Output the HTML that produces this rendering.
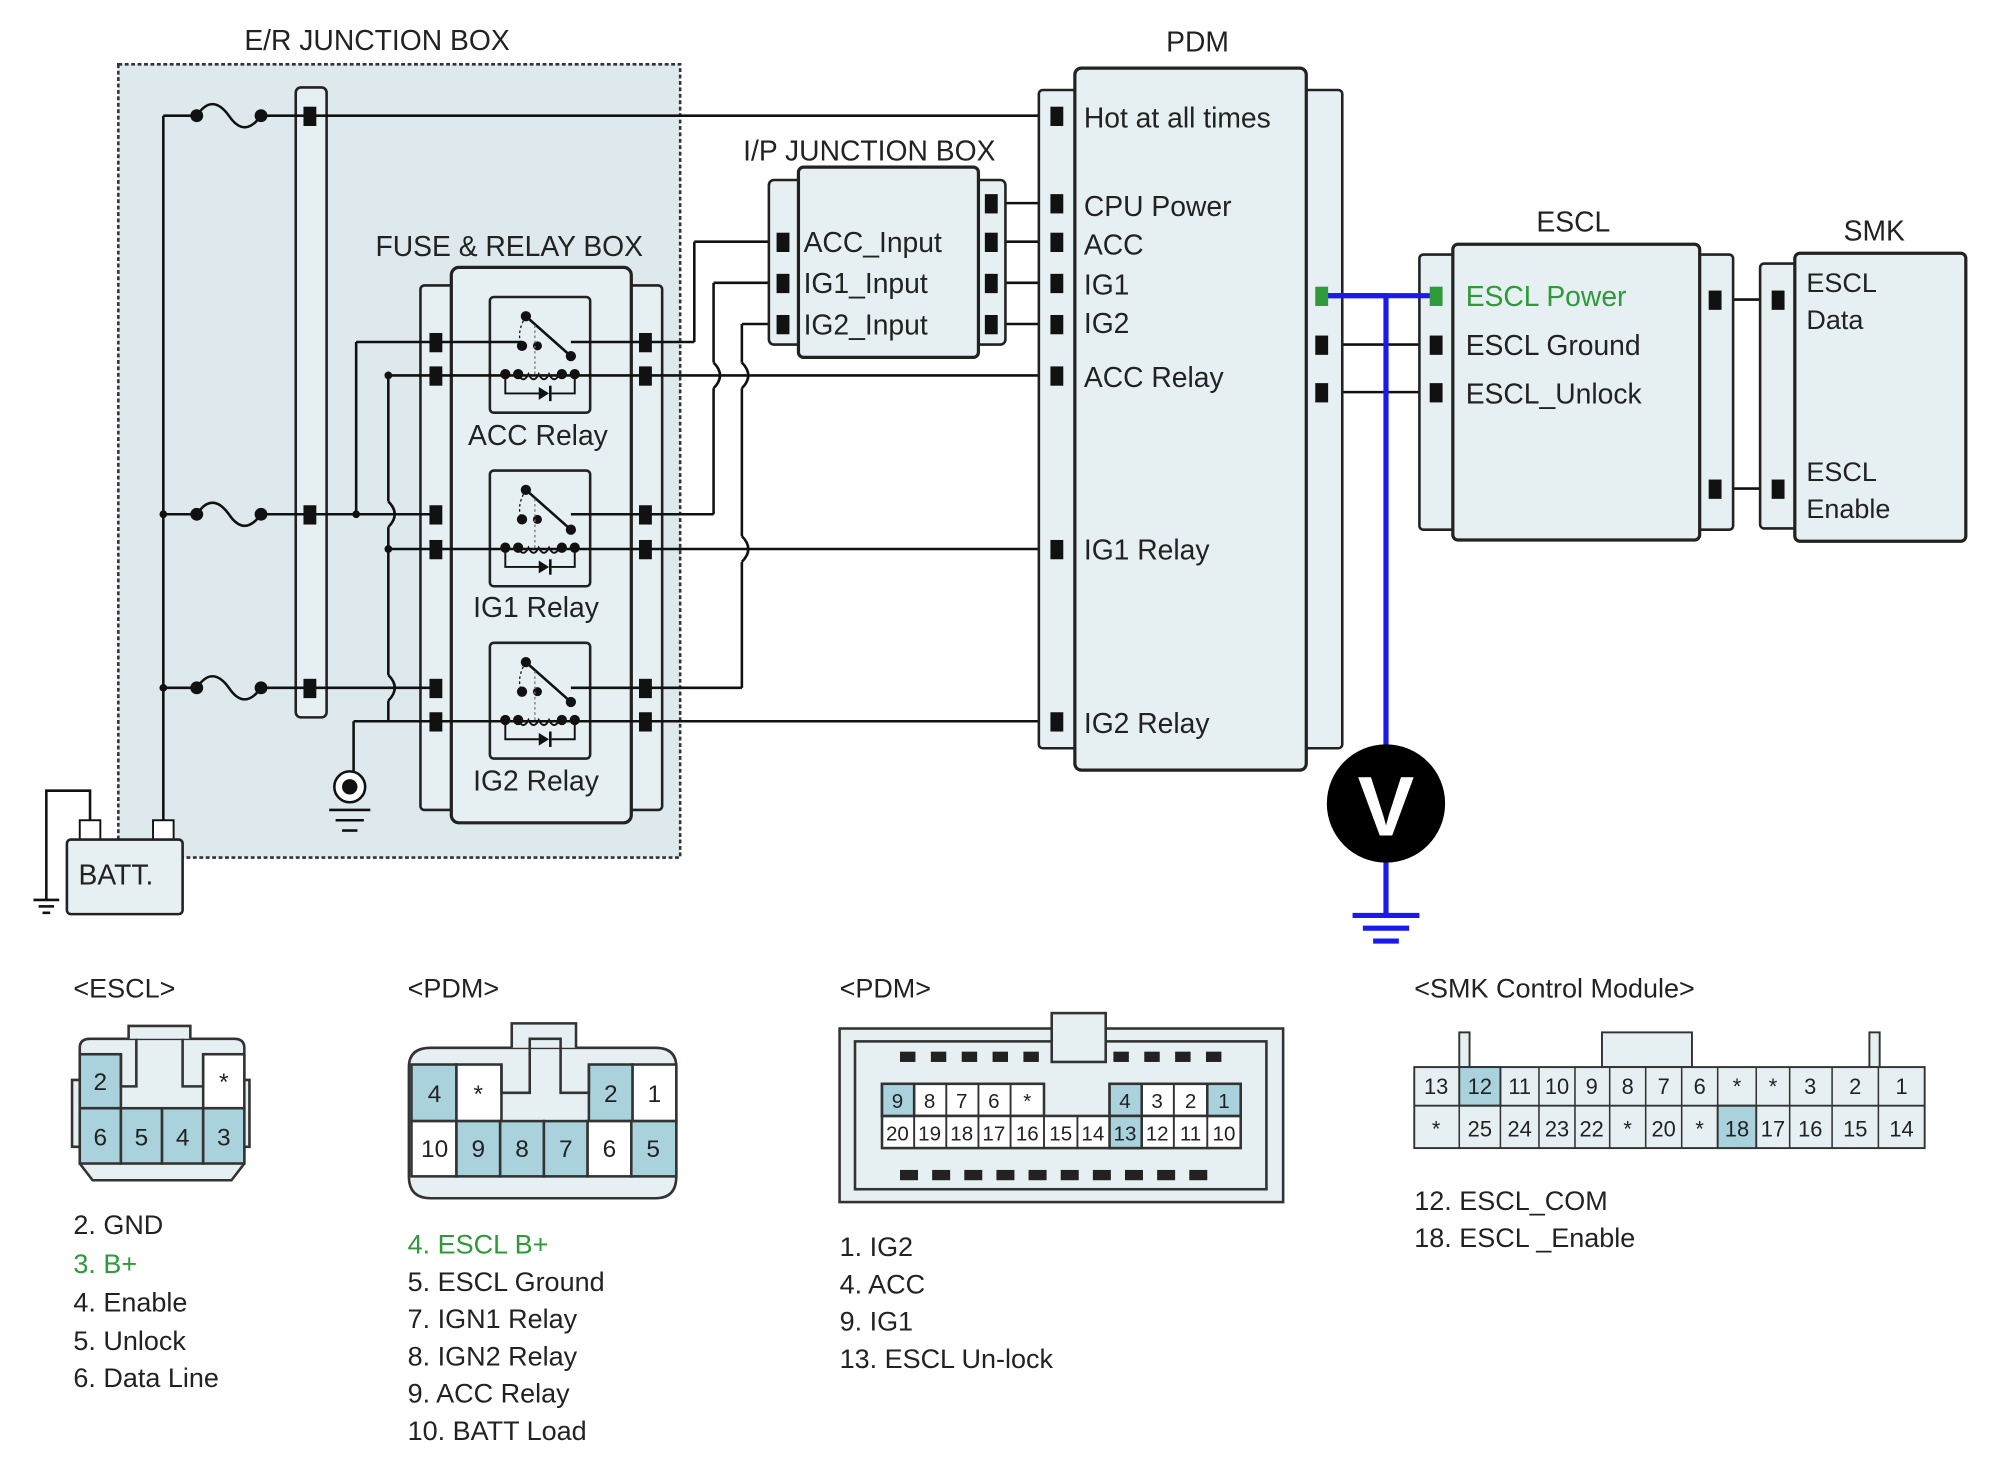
<!DOCTYPE html>
<html><head><style>
html,body{margin:0;padding:0;background:#fff;}
svg{display:block;}
text{font-family:"Liberation Sans",sans-serif;fill:#222;}
</style></head><body>
<svg width="2016" height="1465" viewBox="0 0 1568 1139.5" xmlns="http://www.w3.org/2000/svg">
<defs>
<g id="relay">
<rect x="0" y="0" width="78" height="90" rx="3" fill="none" stroke="#222" stroke-width="2"/>
<circle cx="28" cy="15" r="4" fill="#111"/><line x1="28" y1="15" x2="63" y2="46" stroke="#111" stroke-width="2"/>
<circle cx="37" cy="38" r="3.5" fill="#111"/><circle cx="63" cy="46" r="4" fill="#111"/>
<path d="M28 15 Q20 28 25 38" stroke="#111" stroke-dasharray="2,2" fill="none"/>
<circle cx="25" cy="38" r="4" fill="#111"/>
<line x1="35" y1="22" x2="35" y2="60" stroke="#777" stroke-dasharray="2,2"/>
<circle cx="12" cy="60" r="4" fill="#111"/><circle cx="22" cy="60" r="4" fill="#111"/><circle cx="56" cy="60" r="4" fill="#111"/><circle cx="66" cy="60" r="4" fill="#111"/>
<path d="M22 60 q4 8 8 0 q4 8 8 0 q4 8 8 0 q4 8 8 0" fill="none" stroke="#111" stroke-width="1.5"/>
<path d="M12 60 V75 H40 M48 75 H66 V60" fill="none" stroke="#111" stroke-width="1.5"/>
<path d="M38 70 L46 75 L38 80Z" fill="#111"/><line x1="47" y1="69" x2="47" y2="81" stroke="#111" stroke-width="2"/>
</g>
</defs>

<!-- E/R junction box -->
<rect x="92" y="50" width="437" height="617" fill="#dde9ec" stroke="#333" stroke-width="2" stroke-dasharray="3,2"/>
<text x="190" y="39" font-size="22">E/R JUNCTION BOX</text>
<rect x="230" y="68" width="24" height="490" rx="4" fill="#e6eff1" stroke="#222" stroke-width="2"/>

<!-- Fuse & relay box -->
<text x="292" y="199" font-size="22">FUSE &amp; RELAY BOX</text>
<rect x="327" y="222" width="188" height="408" rx="3" fill="#e6eff1" stroke="#222" stroke-width="2"/>
<rect x="351" y="208" width="140" height="432" rx="6" fill="#e6eff1" stroke="#222" stroke-width="2.5"/>
<use href="#relay" x="381" y="231"/>
<use href="#relay" x="381" y="366"/>
<use href="#relay" x="381" y="500"/>
<text x="364" y="346" font-size="22">ACC Relay</text>
<text x="368" y="480" font-size="22">IG1 Relay</text>
<text x="368" y="615" font-size="22">IG2 Relay</text>

<g stroke="#111" stroke-width="2" fill="none">
<!-- left bus -->
<line x1="127" y1="90" x2="127" y2="645"/>
<line x1="127" y1="90" x2="153" y2="90"/><path d="M153 90 q12 -18 25 0 q12 18 25 0"/><line x1="203" y1="90" x2="820" y2="90"/>
<line x1="127" y1="400" x2="153" y2="400"/><path d="M153 400 q12 -18 25 0 q12 18 25 0"/><line x1="203" y1="400" x2="339" y2="400"/>
<line x1="127" y1="535" x2="153" y2="535"/><path d="M153 535 q12 -18 25 0 q12 18 25 0"/><line x1="203" y1="535" x2="339" y2="535"/>
<!-- relay internal lines -->
<line x1="277" y1="266" x2="406" y2="266"/><line x1="277" y1="266" x2="277" y2="400"/>
<line x1="444" y1="266" x2="540" y2="266"/><line x1="540" y1="266" x2="540" y2="188"/><line x1="540" y1="188" x2="608" y2="188"/>
<line x1="302" y1="292" x2="820" y2="292" /><line x1="302" y1="292" x2="302" y2="390"/><path d="M302 390 q10 10 0 20"/><line x1="302" y1="410" x2="302" y2="525"/><path d="M302 525 q10 10 0 20"/><line x1="302" y1="545" x2="302" y2="561"/>
<line x1="302" y1="427" x2="820" y2="427"/>
<line x1="275" y1="561" x2="820" y2="561"/><line x1="275" y1="561" x2="275" y2="600"/>
<line x1="444" y1="400" x2="555" y2="400"/><line x1="555" y1="400" x2="555" y2="302"/><path d="M555 302 q10 -10 0 -20"/><line x1="555" y1="282" x2="555" y2="220"/><line x1="555" y1="220" x2="608" y2="220"/>
<line x1="444" y1="535" x2="577" y2="535"/><line x1="577" y1="535" x2="577" y2="437"/><path d="M577 437 q10 -10 0 -20"/><line x1="577" y1="417" x2="577" y2="302"/><path d="M577 302 q10 -10 0 -20"/><line x1="577" y1="282" x2="577" y2="252"/><line x1="577" y1="252" x2="608" y2="252"/>
<!-- I/P to PDM -->
<line x1="771" y1="158" x2="822" y2="158"/><line x1="771" y1="188" x2="822" y2="188"/><line x1="771" y1="220" x2="822" y2="220"/><line x1="771" y1="252" x2="822" y2="252"/>
<!-- PDM to ESCL -->
<line x1="1028" y1="268" x2="1117" y2="268"/><line x1="1028" y1="305" x2="1117" y2="305"/>
<line x1="1334" y1="233" x2="1383" y2="233"/><line x1="1334" y1="380" x2="1383" y2="380"/>
<!-- battery wires -->
<path d="M70 645 V615 H36 V700"/>
<line x1="26" y1="700" x2="46" y2="700"/><line x1="30" y1="705" x2="42" y2="705"/><line x1="33" y1="710" x2="39" y2="710"/>
</g>
<!-- white overlay over pdm relay lines hop area (lines run behind junction box) -->
<g fill="#111">
<circle cx="153" cy="90" r="5"/><circle cx="203" cy="90" r="5"/>
<circle cx="153" cy="400" r="5"/><circle cx="203" cy="400" r="5"/><circle cx="127" cy="400" r="3"/>
<circle cx="153" cy="535" r="5"/><circle cx="203" cy="535" r="5"/><circle cx="127" cy="535" r="3"/>
<circle cx="277" cy="400" r="3"/><circle cx="302" cy="427" r="3"/><circle cx="302" cy="292" r="3"/>
</g>
<!-- ground symbol -->
<circle cx="272" cy="612" r="12" fill="#fff" stroke="#111" stroke-width="2"/><circle cx="272" cy="612" r="6" fill="#111"/>
<g stroke="#111" stroke-width="2"><line x1="256" y1="630" x2="288" y2="630"/><line x1="261" y1="638" x2="283" y2="638"/><line x1="266" y1="646" x2="278" y2="646"/></g>
<!-- battery -->
<rect x="62" y="638" width="16" height="15" fill="#fff" stroke="#111" stroke-width="1.5"/>
<rect x="119" y="638" width="16" height="15" fill="#fff" stroke="#111" stroke-width="1.5"/>
<rect x="52" y="653" width="90" height="58" rx="3" fill="#e6eff1" stroke="#222" stroke-width="2"/>
<text x="61" y="688" font-size="22">BATT.</text>

<!-- I/P junction box -->
<text x="578" y="125" font-size="22">I/P JUNCTION BOX</text>
<rect x="598" y="140" width="184" height="128" rx="4" fill="#e6eff1" stroke="#222" stroke-width="2"/>
<rect x="621" y="130" width="140" height="148" rx="4" fill="#e6eff1" stroke="#222" stroke-width="2.5"/>
<text x="625" y="196" font-size="22">ACC_Input</text>
<text x="625" y="228" font-size="22">IG1_Input</text>
<text x="625" y="260" font-size="22">IG2_Input</text>

<!-- PDM -->
<text x="907" y="40" font-size="22">PDM</text>
<rect x="808" y="70" width="236" height="512" rx="3" fill="#e6eff1" stroke="#222" stroke-width="2"/>
<rect x="836" y="53" width="180" height="546" rx="5" fill="#e6eff1" stroke="#222" stroke-width="2.5"/>
<g font-size="22">
<text x="843" y="99">Hot at all times</text>
<text x="843" y="168">CPU Power</text>
<text x="843" y="198">ACC</text>
<text x="843" y="229">IG1</text>
<text x="843" y="259">IG2</text>
<text x="843" y="301">ACC Relay</text>
<text x="843" y="435">IG1 Relay</text>
<text x="843" y="570">IG2 Relay</text>
</g>

<!-- ESCL -->
<text x="1195" y="180" font-size="22">ESCL</text>
<rect x="1104" y="198" width="244" height="214" rx="3" fill="#e6eff1" stroke="#222" stroke-width="2"/>
<rect x="1130" y="190" width="192" height="230" rx="4" fill="#e6eff1" stroke="#222" stroke-width="2.5"/>
<text x="1140" y="238" font-size="22" style="fill:#2e9a3a">ESCL Power</text>
<text x="1140" y="276" font-size="22">ESCL Ground</text>
<text x="1140" y="314" font-size="22">ESCL_Unlock</text>

<!-- SMK -->
<text x="1434" y="187" font-size="22">SMK</text>
<rect x="1369" y="205" width="160" height="206" rx="3" fill="#e6eff1" stroke="#222" stroke-width="2"/>
<rect x="1396" y="197" width="133" height="224" rx="4" fill="#e6eff1" stroke="#222" stroke-width="2.5"/>
<g font-size="21"><text x="1405" y="227">ESCL</text><text x="1405" y="256">Data</text><text x="1405" y="374">ESCL</text><text x="1405" y="403">Enable</text></g>

<!-- connector pins -->
<g fill="#111">
<rect x="236" y="83" width="10" height="15"/><rect x="236" y="393" width="10" height="15"/><rect x="236" y="528" width="10" height="15"/>
<rect x="334" y="259" width="10" height="15"/><rect x="334" y="285" width="10" height="15"/><rect x="334" y="393" width="10" height="15"/><rect x="334" y="420" width="10" height="15"/><rect x="334" y="528" width="10" height="15"/><rect x="334" y="554" width="10" height="15"/>
<rect x="497" y="259" width="10" height="15"/><rect x="497" y="285" width="10" height="15"/><rect x="497" y="393" width="10" height="15"/><rect x="497" y="420" width="10" height="15"/><rect x="497" y="528" width="10" height="15"/><rect x="497" y="554" width="10" height="15"/>
<rect x="604" y="181" width="10" height="15"/><rect x="604" y="213" width="10" height="15"/><rect x="604" y="245" width="10" height="15"/>
<rect x="766" y="151" width="10" height="15"/><rect x="766" y="181" width="10" height="15"/><rect x="766" y="213" width="10" height="15"/><rect x="766" y="245" width="10" height="15"/>
<rect x="817" y="83" width="10" height="15"/><rect x="817" y="151" width="10" height="15"/><rect x="817" y="181" width="10" height="15"/><rect x="817" y="213" width="10" height="15"/><rect x="817" y="245" width="10" height="15"/><rect x="817" y="285" width="10" height="15"/><rect x="817" y="420" width="10" height="15"/><rect x="817" y="554" width="10" height="15"/>
<rect x="1023" y="261" width="10" height="15"/><rect x="1023" y="298" width="10" height="15"/>
<rect x="1112" y="261" width="10" height="15"/><rect x="1112" y="298" width="10" height="15"/>
<rect x="1329" y="226" width="10" height="15"/><rect x="1329" y="373" width="10" height="15"/>
<rect x="1378" y="226" width="10" height="15"/><rect x="1378" y="373" width="10" height="15"/>
</g>
<!-- blue measurement -->
<g stroke="#1a1aee" stroke-width="4" fill="none">
<path d="M1030 230 H1078 V580"/><line x1="1117" y1="230" x2="1030" y2="230"/>
<line x1="1078" y1="670" x2="1078" y2="712"/>
<line x1="1052" y1="712" x2="1104" y2="712"/><line x1="1060" y1="722" x2="1096" y2="722"/><line x1="1068" y1="732" x2="1088" y2="732"/>
</g>
<rect x="1023" y="223" width="10" height="15" fill="#2e9a3a"/><rect x="1112" y="223" width="10" height="15" fill="#2e9a3a"/>
<circle cx="1078" cy="625" r="46" fill="#000"/>
<text x="1078" y="650" font-size="66" font-weight="bold" text-anchor="middle" style="fill:#fff">V</text>

<!-- ===== Bottom connectors ===== -->
<g font-size="21">
<text x="57" y="776">&lt;ESCL&gt;</text>
<text x="317" y="776">&lt;PDM&gt;</text>
<text x="653" y="776">&lt;PDM&gt;</text>
<text x="1100" y="776">&lt;SMK Control Module&gt;</text>
</g>

<!-- ESCL connector -->
<g stroke="#333" stroke-width="2">
<path d="M56 840 H62 V815 Q62 808 70 808 H182 Q190 808 190 815 V840 H194 V892 H190 V905 L180 918 H72 L62 905 V892 H56Z" fill="#e6eff1"/>
<path d="M100 808 V798 H148 V808" fill="#e6eff1"/>
<rect x="62" y="820" width="32" height="42" fill="#a9d2dc"/>
<rect x="158" y="820" width="32" height="42" fill="#fff"/>
<path d="M94 820 V845 H106 V808 M142 808 V845 H158 V820" fill="none"/>
<rect x="62" y="862" width="32" height="43" fill="#a9d2dc"/><rect x="94" y="862" width="32" height="43" fill="#a9d2dc"/><rect x="126" y="862" width="32" height="43" fill="#a9d2dc"/><rect x="158" y="862" width="32" height="43" fill="#a9d2dc"/>
</g>
<g font-size="19" text-anchor="middle"><text x="78" y="848">2</text><text x="174" y="848">*</text><text x="78" y="891">6</text><text x="110" y="891">5</text><text x="142" y="891">4</text><text x="174" y="891">3</text></g>

<!-- PDM small connector -->
<g stroke="#333" stroke-width="2">
<path d="M318 830 Q318 815 335 815 H510 Q526 815 526 830 V915 Q526 932 510 932 H335 Q318 932 318 915Z" fill="#e6eff1"/>
<path d="M398 815 V796 H448 V815" fill="#e6eff1"/>
<rect x="320" y="828" width="35" height="44" fill="#a9d2dc"/><rect x="355" y="828" width="35" height="44" fill="#fff"/>
<rect x="458" y="828" width="34" height="44" fill="#a9d2dc"/><rect x="492" y="828" width="34" height="44" fill="#fff"/>
<rect x="320" y="872" width="35" height="43" fill="#fff"/><rect x="355" y="872" width="34" height="43" fill="#a9d2dc"/><rect x="389" y="872" width="34" height="43" fill="#a9d2dc"/><rect x="423" y="872" width="34" height="43" fill="#a9d2dc"/><rect x="457" y="872" width="34" height="43" fill="#fff"/><rect x="491" y="872" width="35" height="43" fill="#a9d2dc"/>
<path d="M390 828 V850 H412 V808 H436 V850 H458 V828" fill="none"/>
</g>
<g font-size="19" text-anchor="middle"><text x="338" y="857">4</text><text x="372" y="857">*</text><text x="475" y="857">2</text><text x="509" y="857">1</text>
<text x="338" y="900">10</text><text x="372" y="900">9</text><text x="406" y="900">8</text><text x="440" y="900">7</text><text x="474" y="900">6</text><text x="508" y="900">5</text></g>

<!-- PDM large connector -->
<g stroke="#333" stroke-width="2">
<rect x="653" y="800" width="345" height="135" fill="#e6eff1"/>
<rect x="665" y="810" width="320" height="115" fill="#e6eff1"/>
<rect x="818" y="788" width="42" height="38" fill="#e6eff1"/>
<rect x="686" y="843" width="126" height="25" fill="#fff"/>
<rect x="863" y="843" width="102" height="25" fill="#fff"/>
<rect x="686" y="868" width="279" height="25" fill="#fff"/>
<rect x="686" y="843" width="25" height="25" fill="#a9d2dc"/><rect x="863" y="843" width="25" height="25" fill="#a9d2dc"/><rect x="939" y="843" width="26" height="25" fill="#a9d2dc"/>
<rect x="863" y="868" width="25" height="25" fill="#a9d2dc"/>
</g>
<g stroke="#333" stroke-width="1.5">
<line x1="711" y1="843" x2="711" y2="868"/><line x1="736" y1="843" x2="736" y2="868"/><line x1="761" y1="843" x2="761" y2="868"/><line x1="786" y1="843" x2="786" y2="868"/>
<line x1="888" y1="843" x2="888" y2="868"/><line x1="913" y1="843" x2="913" y2="868"/><line x1="939" y1="843" x2="939" y2="868"/>
<line x1="711" y1="868" x2="711" y2="893"/><line x1="736" y1="868" x2="736" y2="893"/><line x1="761" y1="868" x2="761" y2="893"/><line x1="786" y1="868" x2="786" y2="893"/><line x1="812" y1="868" x2="812" y2="893"/><line x1="838" y1="868" x2="838" y2="893"/><line x1="863" y1="868" x2="863" y2="893"/><line x1="888" y1="868" x2="888" y2="893"/><line x1="913" y1="868" x2="913" y2="893"/><line x1="939" y1="868" x2="939" y2="893"/>
</g>
<g fill="#222">
<rect x="700" y="818" width="12" height="8"/><rect x="724" y="818" width="12" height="8"/><rect x="748" y="818" width="12" height="8"/><rect x="772" y="818" width="12" height="8"/><rect x="796" y="818" width="12" height="8"/><rect x="866" y="818" width="12" height="8"/><rect x="890" y="818" width="12" height="8"/><rect x="914" y="818" width="12" height="8"/><rect x="938" y="818" width="12" height="8"/>
<rect x="700" y="910" width="14" height="8"/><rect x="725" y="910" width="14" height="8"/><rect x="750" y="910" width="14" height="8"/><rect x="775" y="910" width="14" height="8"/><rect x="800" y="910" width="14" height="8"/><rect x="825" y="910" width="14" height="8"/><rect x="850" y="910" width="14" height="8"/><rect x="875" y="910" width="14" height="8"/><rect x="900" y="910" width="14" height="8"/><rect x="925" y="910" width="14" height="8"/>
</g>
<g font-size="16" text-anchor="middle"><text x="698" y="862">9</text><text x="723" y="862">8</text><text x="748" y="862">7</text><text x="773" y="862">6</text><text x="799" y="862">*</text>
<text x="875" y="862">4</text><text x="900" y="862">3</text><text x="926" y="862">2</text><text x="952" y="862">1</text>
<text x="698" y="887">20</text><text x="723" y="887">19</text><text x="748" y="887">18</text><text x="773" y="887">17</text><text x="799" y="887">16</text><text x="825" y="887">15</text><text x="850" y="887">14</text><text x="875" y="887">13</text><text x="900" y="887">12</text><text x="926" y="887">11</text><text x="952" y="887">10</text></g>

<!-- SMK connector -->
<g stroke="#333" stroke-width="1.5">
<rect x="1135" y="803" width="8" height="27" fill="#e6eff1"/><rect x="1454" y="803" width="8" height="27" fill="#e6eff1"/>
<rect x="1246" y="803" width="70" height="27" fill="#e6eff1"/>
<rect x="1100" y="830" width="397" height="63" fill="#e6eff1"/>
<rect x="1135" y="830" width="32" height="30" fill="#a9d2dc"/>
<rect x="1336" y="860" width="30" height="33" fill="#a9d2dc"/>
<line x1="1100" y1="860" x2="1497" y2="860"/>
</g>
<g stroke="#333" stroke-width="1.2">
<line x1="1135" y1="830" x2="1135" y2="893"/><line x1="1167" y1="830" x2="1167" y2="893"/><line x1="1197" y1="830" x2="1197" y2="893"/><line x1="1225" y1="830" x2="1225" y2="893"/><line x1="1252" y1="830" x2="1252" y2="893"/><line x1="1280" y1="830" x2="1280" y2="893"/><line x1="1308" y1="830" x2="1308" y2="893"/><line x1="1336" y1="830" x2="1336" y2="893"/><line x1="1366" y1="830" x2="1366" y2="893"/><line x1="1392" y1="830" x2="1392" y2="893"/><line x1="1425" y1="830" x2="1425" y2="893"/><line x1="1461" y1="830" x2="1461" y2="893"/>
</g>
<g font-size="17" text-anchor="middle">
<text x="1117" y="851">13</text><text x="1151" y="851">12</text><text x="1182" y="851">11</text><text x="1211" y="851">10</text><text x="1238" y="851">9</text><text x="1266" y="851">8</text><text x="1294" y="851">7</text><text x="1322" y="851">6</text><text x="1351" y="851">*</text><text x="1379" y="851">*</text><text x="1408" y="851">3</text><text x="1443" y="851">2</text><text x="1479" y="851">1</text>
<text x="1117" y="884">*</text><text x="1151" y="884">25</text><text x="1182" y="884">24</text><text x="1211" y="884">23</text><text x="1238" y="884">22</text><text x="1266" y="884">*</text><text x="1294" y="884">20</text><text x="1322" y="884">*</text><text x="1351" y="884">18</text><text x="1379" y="884">17</text><text x="1408" y="884">16</text><text x="1443" y="884">15</text><text x="1479" y="884">14</text>
</g>

<!-- legends -->
<g font-size="21">
<text x="57" y="960">2. GND</text>
<text x="57" y="990" style="fill:#2e9a3a">3. B+</text>
<text x="57" y="1020">4. Enable</text>
<text x="57" y="1050">5. Unlock</text>
<text x="57" y="1079">6. Data Line</text>
<text x="317" y="975" style="fill:#2e9a3a">4. ESCL B+</text>
<text x="317" y="1004">5. ESCL Ground</text>
<text x="317" y="1033">7. IGN1 Relay</text>
<text x="317" y="1062">8. IGN2 Relay</text>
<text x="317" y="1091">9. ACC Relay</text>
<text x="317" y="1120">10. BATT Load</text>
<text x="653" y="977">1. IG2</text>
<text x="653" y="1006">4. ACC</text>
<text x="653" y="1035">9. IG1</text>
<text x="653" y="1064">13. ESCL Un-lock</text>
<text x="1100" y="941">12. ESCL_COM</text>
<text x="1100" y="970">18. ESCL _Enable</text>
</g>
</svg>
</body></html>
